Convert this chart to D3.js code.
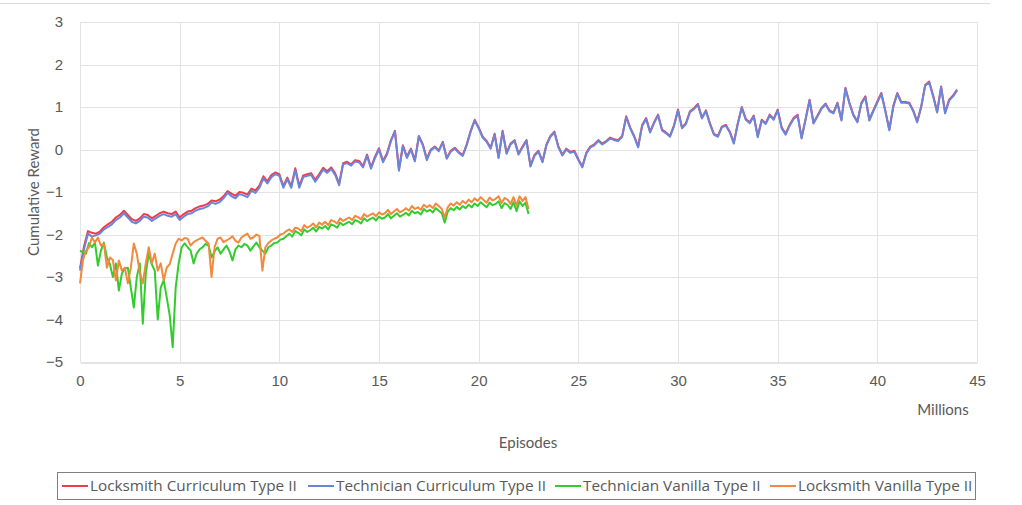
<!DOCTYPE html>
<html>
<head>
<meta charset="utf-8">
<script src="https://cdn.jsdelivr.net/npm/d3@7"></script>
<style>
  body { margin: 0; background: #fff; }
  svg { display: block; font-family: Lato, "Open Sans", sans-serif; }
  .tick text { fill: #595959; font-size: 15px; }
</style>
</head>
<body>
<svg id="chart" width="1022" height="505"></svg>
<script>
// Episodes are sampled on a regular grid (millions)
const curriculumStep = 0.2;
const vanillaStep = 0.15;

const locksmithCurriculum = [
  -2.8,-2.28,-1.92,-1.96,-1.98,-1.93,-1.83,-1.76,-1.7,-1.6,
  -1.54,-1.44,-1.54,-1.64,-1.68,-1.62,-1.52,-1.54,-1.62,-1.56,
  -1.5,-1.46,-1.5,-1.52,-1.46,-1.6,-1.52,-1.46,-1.44,-1.38,
  -1.34,-1.32,-1.28,-1.2,-1.22,-1.18,-1.1,-0.98,-1.04,-1.09,
  -1.0,-1.02,-1.06,-0.92,-0.96,-0.85,-0.63,-0.75,-0.6,-0.54,
  -0.58,-0.86,-0.66,-0.86,-0.44,-0.86,-0.61,-0.58,-0.56,-0.72,
  -0.58,-0.43,-0.51,-0.42,-0.56,-0.8,-0.32,-0.29,-0.35,-0.25,
  -0.27,-0.39,-0.12,-0.42,-0.17,0.03,-0.27,-0.09,0.22,0.44,
  -0.47,0.1,-0.17,0.02,-0.25,0.32,0.12,-0.22,0.0,0.07,
  -0.02,0.18,-0.2,-0.03,0.04,-0.06,-0.13,0.12,0.44,0.7,
  0.52,0.3,0.2,0.04,0.37,-0.18,0.44,-0.08,0.14,0.22,
  -0.1,0.07,0.22,-0.38,-0.13,-0.03,-0.28,0.12,0.32,0.42,
  0.07,-0.12,0.02,-0.06,-0.03,-0.23,-0.4,-0.08,0.07,0.12,
  0.22,0.14,0.2,0.28,0.24,0.22,0.32,0.78,0.52,0.32,
  0.07,0.57,0.74,0.42,0.64,0.82,0.47,0.4,0.32,0.57,
  0.94,0.52,0.62,0.9,0.97,1.07,0.75,0.92,0.62,0.37,
  0.32,0.54,0.58,0.42,0.16,0.62,1.0,0.72,0.64,0.8,
  0.31,0.7,0.62,0.82,0.72,0.94,0.52,0.37,0.58,0.74,
  0.82,0.28,0.72,1.17,0.63,0.8,0.98,1.08,0.92,0.87,
  1.1,0.7,1.45,1.1,0.82,0.66,1.1,1.25,0.7,0.92,
  1.13,1.33,0.92,0.47,1.02,1.33,1.12,1.12,1.1,0.92,
  0.66,1.01,1.52,1.6,1.27,0.89,1.48,0.87,1.17,1.27,
  1.41
];

const technicianCurriculum = [
  -2.85,-2.35,-1.98,-2.05,-2.02,-1.98,-1.88,-1.82,-1.76,-1.66,
  -1.6,-1.5,-1.6,-1.7,-1.74,-1.68,-1.58,-1.6,-1.68,-1.62,
  -1.56,-1.52,-1.56,-1.58,-1.52,-1.66,-1.58,-1.52,-1.5,-1.44,
  -1.4,-1.38,-1.34,-1.25,-1.28,-1.24,-1.15,-1.02,-1.1,-1.15,
  -1.05,-1.08,-1.12,-0.97,-1.02,-0.9,-0.68,-0.8,-0.65,-0.58,
  -0.62,-0.9,-0.7,-0.9,-0.48,-0.9,-0.65,-0.62,-0.6,-0.76,
  -0.62,-0.47,-0.55,-0.46,-0.6,-0.84,-0.35,-0.32,-0.38,-0.28,
  -0.3,-0.42,-0.15,-0.45,-0.2,0.0,-0.3,-0.12,0.2,0.42,
  -0.5,0.08,-0.2,0.0,-0.28,0.3,0.1,-0.25,-0.02,0.05,
  -0.04,0.16,-0.22,-0.05,0.02,-0.08,-0.15,0.1,0.42,0.68,
  0.5,0.28,0.18,0.02,0.35,-0.2,0.42,-0.1,0.12,0.2,
  -0.12,0.05,0.2,-0.4,-0.15,-0.05,-0.3,0.1,0.3,0.4,
  0.05,-0.14,0.0,-0.08,-0.05,-0.25,-0.42,-0.1,0.05,0.1,
  0.2,0.12,0.18,0.26,0.22,0.2,0.3,0.76,0.5,0.3,
  0.05,0.55,0.72,0.4,0.62,0.8,0.45,0.38,0.3,0.55,
  0.92,0.5,0.6,0.88,0.95,1.05,0.73,0.9,0.6,0.35,
  0.3,0.52,0.56,0.4,0.14,0.6,0.98,0.7,0.62,0.78,
  0.29,0.68,0.6,0.8,0.7,0.92,0.5,0.35,0.56,0.72,
  0.8,0.26,0.7,1.15,0.61,0.78,0.96,1.06,0.9,0.85,
  1.08,0.68,1.43,1.08,0.8,0.64,1.08,1.23,0.68,0.9,
  1.11,1.31,0.9,0.45,1.0,1.31,1.1,1.1,1.08,0.9,
  0.64,0.99,1.5,1.58,1.25,0.87,1.46,0.85,1.15,1.25,
  1.39
];

const technicianVanilla = [
  -2.38,-2.42,-2.45,-2.2,-2.3,-2.19,-2.73,-2.38,-2.19,-2.54,
  -2.7,-3.0,-2.68,-3.32,-2.92,-2.8,-2.78,-3.25,-3.72,-3.0,
  -2.68,-4.1,-2.92,-2.45,-2.7,-2.85,-4.0,-3.25,-3.08,-3.48,
  -3.9,-4.65,-3.25,-2.68,-2.3,-2.21,-2.3,-2.38,-2.68,-2.45,
  -2.35,-2.3,-2.22,-2.26,-2.54,-2.4,-2.3,-2.45,-2.35,-2.26,
  -2.4,-2.61,-2.35,-2.26,-2.3,-2.22,-2.26,-2.38,-2.28,-2.19,
  -2.3,-2.38,-2.45,-2.3,-2.26,-2.2,-2.19,-2.12,-2.1,-2.04,
  -1.98,-2.05,-1.92,-1.96,-2.02,-1.88,-1.94,-1.9,-1.84,-1.93,
  -1.82,-1.86,-1.8,-1.88,-1.76,-1.79,-1.84,-1.72,-1.78,-1.74,
  -1.7,-1.76,-1.66,-1.69,-1.74,-1.62,-1.68,-1.64,-1.6,-1.67,
  -1.58,-1.63,-1.6,-1.52,-1.62,-1.56,-1.5,-1.58,-1.54,-1.49,
  -1.55,-1.44,-1.5,-1.47,-1.53,-1.4,-1.46,-1.42,-1.48,-1.38,
  -1.44,-1.5,-1.72,-1.46,-1.38,-1.43,-1.35,-1.41,-1.33,-1.38,
  -1.3,-1.36,-1.27,-1.33,-1.24,-1.3,-1.36,-1.25,-1.31,-1.28,
  -1.22,-1.38,-1.26,-1.3,-1.4,-1.24,-1.45,-1.22,-1.33,-1.25,
  -1.52
];

const locksmithVanilla = [
  -3.15,-2.6,-2.38,-2.3,-2.07,-2.19,-2.07,-2.26,-2.22,-2.78,
  -2.54,-2.6,-3.08,-2.61,-2.85,-2.78,-3.15,-2.78,-2.21,-2.45,
  -2.9,-3.15,-2.68,-2.3,-2.68,-2.45,-2.85,-2.68,-3.08,-2.78,
  -2.7,-2.45,-2.21,-2.1,-2.14,-2.08,-2.1,-2.26,-2.18,-2.14,
  -2.1,-2.07,-2.15,-2.21,-3.0,-2.3,-2.1,-2.07,-2.18,-2.14,
  -2.1,-2.04,-2.15,-2.19,-2.07,-2.02,-1.98,-2.1,-2.07,-2.0,
  -2.04,-2.85,-2.3,-2.2,-2.14,-2.1,-2.07,-2.0,-1.98,-1.92,
  -1.88,-1.94,-1.84,-1.86,-1.92,-1.78,-1.84,-1.8,-1.74,-1.83,
  -1.72,-1.77,-1.7,-1.78,-1.66,-1.69,-1.74,-1.62,-1.68,-1.64,
  -1.6,-1.66,-1.56,-1.59,-1.64,-1.52,-1.58,-1.54,-1.5,-1.57,
  -1.48,-1.53,-1.5,-1.42,-1.52,-1.46,-1.4,-1.48,-1.44,-1.38,
  -1.44,-1.33,-1.4,-1.36,-1.42,-1.3,-1.36,-1.31,-1.38,-1.27,
  -1.33,-1.4,-1.6,-1.36,-1.27,-1.32,-1.24,-1.3,-1.21,-1.27,
  -1.18,-1.24,-1.15,-1.21,-1.12,-1.19,-1.25,-1.13,-1.2,-1.16,
  -1.1,-1.26,-1.14,-1.18,-1.28,-1.12,-1.32,-1.1,-1.21,-1.12,
  -1.4
];

const seriesNames = [
  "Locksmith Curriculum Type II",
  "Technician Curriculum Type II",
  "Technician Vanilla Type II",
  "Locksmith Vanilla Type II"
];
const seriesColors = ["#ee3d47", "#6a86dc", "#33cc2e", "#f2893d"];
const xTicks = [0, 5, 10, 15, 20, 25, 30, 35, 40, 45];
const yTicks = [-5, -4, -3, -2, -1, 0, 1, 2, 3];

const series = [
  { values: locksmithCurriculum, step: curriculumStep },
  { values: technicianCurriculum, step: curriculumStep },
  { values: technicianVanilla, step: vanillaStep },
  { values: locksmithVanilla, step: vanillaStep }
];

const svg = d3.select("#chart");
const plot = { left: 80, right: 977, top: 22, bottom: 362 };

// faint frame line at the very top
svg.append("line")
    .attr("x1", 0).attr("x2", 990)
    .attr("y1", 3.5).attr("y2", 3.5)
    .attr("stroke", "#d9d9d9");

const x = d3.scaleLinear().domain([0, 45]).range([plot.left, plot.right]);
const y = d3.scaleLinear().domain([-5, 3]).range([plot.bottom, plot.top]);

// Gridlines
svg.append("g")
    .selectAll("line")
    .data(yTicks.filter(d => d !== -5))
    .enter()
    .append("line")
        .attr("x1", plot.left).attr("x2", plot.right)
        .attr("y1", d => Math.round(y(d)) + 0.5)
        .attr("y2", d => Math.round(y(d)) + 0.5)
        .attr("stroke", "#e3e3e3");

svg.append("g")
    .selectAll("line")
    .data(xTicks)
    .enter()
    .append("line")
        .attr("x1", d => Math.round(x(d)) + 0.5)
        .attr("x2", d => Math.round(x(d)) + 0.5)
        .attr("y1", plot.top).attr("y2", plot.bottom)
        .attr("stroke", "#e3e3e3");

// Axes
const xAxis = svg.append("g")
    .attr("transform", "translate(0," + (plot.bottom + 0.5) + ")")
    .call(d3.axisBottom(x).tickValues(xTicks).tickSize(0).tickPadding(13));
xAxis.select(".domain").attr("stroke", "#c8c8c8");

const yAxis = svg.append("g")
    .attr("transform", "translate(" + (plot.left - 4) + ",0)")
    .call(d3.axisLeft(y).tickValues(yTicks).tickSize(0).tickPadding(13));
yAxis.select(".domain").remove();

// Lines, drawn in legend order so later series sit on top
series.forEach(function(s, k) {
    svg.append("path")
        .datum(s.values)
        .attr("fill", "none")
        .attr("stroke", seriesColors[k])
        .attr("stroke-width", 2)
        .attr("stroke-linejoin", "round")
        .attr("d", d3.line()
            .x((d, i) => x(i * s.step))
            .y(d => y(d)));
});

// Axis titles
svg.append("text")
    .attr("x", 943).attr("y", 415)
    .attr("text-anchor", "middle")
    .attr("fill", "#595959")
    .style("font-size", "15px")
    .text("Millions");

svg.append("text")
    .attr("x", 528).attr("y", 448)
    .attr("text-anchor", "middle")
    .attr("fill", "#595959")
    .style("font-size", "15px")
    .text("Episodes");

svg.append("text")
    .attr("transform", "translate(39,192)rotate(-90)")
    .attr("text-anchor", "middle")
    .attr("fill", "#595959")
    .style("font-size", "15px")
    .text("Cumulative Reward");

// Legend
const legend = svg.append("g");
legend.append("rect")
    .attr("x", 57.5).attr("y", 472.5)
    .attr("width", 918).attr("height", 27)
    .attr("fill", "none")
    .attr("stroke", "#7f7f7f");

const legendX = [62, 308, 555, 770];
seriesNames.forEach(function(name, k) {
    const g = legend.append("g").attr("transform", "translate(" + legendX[k] + ",0)");
    g.append("line")
        .attr("x1", 0).attr("x2", 26)
        .attr("y1", 486).attr("y2", 486)
        .attr("stroke", seriesColors[k])
        .attr("stroke-width", 2);
    g.append("text")
        .attr("x", 28).attr("y", 491)
        .attr("fill", "#595959")
        .style("font-family", "'Open Sans', sans-serif")
        .style("font-size", "15.3px")
        .text(name);
});
</script>
</body>
</html>
